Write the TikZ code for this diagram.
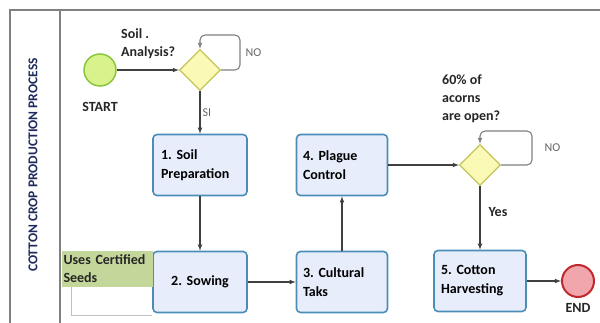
\documentclass[tikz,border=0pt]{standalone}
\usepackage{fontspec}
\setmainfont{Carlito}
\usetikzlibrary{arrows}
\usetikzlibrary{fit,positioning,backgrounds,shapes.geometric}
\frenchspacing

\definecolor{taskblue}{HTML}{4A8DB7}
\definecolor{taskfill}{HTML}{E8EDFB}
\definecolor{gatedraw}{HTML}{C4C45A}
\definecolor{gatefill}{HTML}{FAFAB6}
\definecolor{startdraw}{HTML}{8CC63F}
\definecolor{startfill}{HTML}{D8F28C}
\definecolor{enddraw}{HTML}{C0282D}
\definecolor{endfill}{HTML}{F0A6AC}
\definecolor{seedfill}{HTML}{C4D79B}
\definecolor{lanetext}{HTML}{1F2A5C}

\begin{document}
\begin{tikzpicture}[x=1pt, y=-1pt, auto, >=latex']
	\tikzstyle{task}=[rectangle, rounded corners=4pt, draw=taskblue, fill=taskfill, line width=1.6pt, minimum width=94pt, minimum height=61pt, text width=78pt, align=left, font=\fontsize{14}{19}\selectfont\bfseries]
	\tikzstyle{gate}=[diamond, aspect=1, inner sep=0pt, minimum size=41pt, draw=gatedraw, fill=gatefill, line width=1.2pt]
	\tikzstyle{event}=[circle, minimum size=32pt, inner sep=0pt, line width=1.5pt]
	\tikzstyle{connect}=[-latex, line width=1.1pt, draw=black!75]
	\tikzstyle{loop}=[-latex, line width=1.1pt, draw=black!50, rounded corners=5pt]
	\tikzstyle{txt}=[font=\fontsize{14}{18}\selectfont\bfseries, text=black!85, align=left, inner sep=0pt]
	\tikzstyle{gray}=[font=\fontsize{12}{14}\selectfont, text=black!60, inner sep=2pt]
	\tikzstyle{lane}=[line width=1.4pt, draw=black!50]
	
	\useasboundingbox (0,0) rectangle (600,323);
	
	% pool frame
	\draw[lane] (10,330) -- (10,10) -- (610,10);
	\draw[lane] (60,10) -- (60,330);
	\node[rotate=90, font=\fontsize{13.5}{15}\selectfont\bfseries, text=lanetext] (lanelbl) at (33,165) {COTTON CROP PRODUCTION PROCESS};
	
	% events and gateways
	\node[event, draw=startdraw, fill=startfill] (start) at (100,70) {};
	\node[txt] (startlbl) at (100,107) {START};
	\node[gate] (soil) at (200,70) {};
	\node[txt, anchor=west] (soilq) at (121,44) {Soil .\\Analysis?};
	
	\node[gate] (open) at (480,165) {};
	\node[txt, anchor=west] (openq) at (442,99) {60\% of\\acorns\\are open?};
	
	\node[event, draw=enddraw, fill=endfill, line width=2pt] (end) at (578,281) {};
	\node[txt] (endlbl) at (578,308) {END};
	
	% tasks
	\node[task] (prep) at (200,165) {1. Soil\\Preparation};
	\node[task, align=center] (sow) at (200,282) {2. Sowing};
	\node[task, minimum width=91pt] (cult) at (342,282) {3. Cultural\\Taks};
	\node[task, minimum width=91pt] (plague) at (342,165) {4. Plague\\Control};
	\node[task, minimum width=92pt] (harv) at (480,281) {5. Cotton\\Harvesting};
	
	% annotation
	\node[rectangle, fill=seedfill, minimum width=91pt, minimum height=36pt, text width=88pt, inner sep=1pt, txt] (seeds) at (107.5,269) {Uses Certified\\Seeds};
	\draw[line width=1.1pt, draw=black!25] ([xshift=10pt]seeds.south west) |- ([yshift=-2pt]sow.south west);
	
	\coordinate (c1) at (240,35);
	\coordinate (c2) at (532,131);
	
	\path (start) edge [connect] (soil)
	(soil) edge [connect] node[gray, right, pos=0.5] {SI} (prep)
	(prep) edge [connect] (sow)
	(sow) edge [connect] (cult)
	(cult) edge [connect] (plague)
	(plague) edge [connect] (open)
	(open) edge [connect] node[txt, right, xshift=8pt, pos=0.4] {Yes} (harv)
	(harv) edge [connect] (end);
	
	\draw[loop] (soil.east) -| (c1) node[gray, right, pos=0.75, xshift=3pt] {NO} -| (soil.north);
	\draw[loop] (open.east) -| (c2) node[gray, right, pos=0.75, xshift=10pt] {NO} -| (open.north);
	
\end{tikzpicture}
\end{document}
